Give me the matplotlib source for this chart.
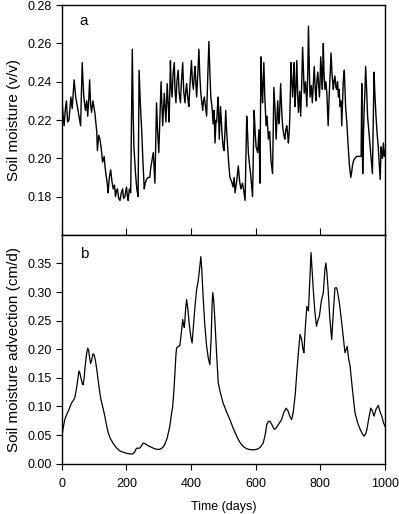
import matplotlib
matplotlib.use('Agg')
from matplotlib import pyplot as plt

plt.rcParams['font.family'] = ['Liberation Sans', 'DejaVu Sans']

# panel a: soil moisture (v/v)
days_a = [0, 4, 7, 11, 14, 18, 22, 26, 28, 32, 36, 38, 43, 47, 51, 55, 58, 61, 63, 66,
          68, 73, 77, 80, 83, 86, 89, 92, 96, 99, 102, 105, 108, 110, 114, 118, 122, 126, 131, 134,
          138, 141, 143, 147, 151, 155, 159, 163, 166, 169, 172, 176, 180, 184, 188, 191, 195, 198, 200, 203,
          205, 209, 213, 218, 221, 223, 228, 232, 236, 239, 243, 247, 251, 255, 258, 262, 267, 272, 275, 278,
          283, 286, 288, 293, 296, 300, 304, 307, 310, 312, 317, 320, 322, 326, 329, 332, 336, 338, 341, 344,
          348, 350, 353, 356, 360, 363, 367, 370, 374, 377, 381, 384, 386, 390, 393, 397, 401, 404, 407, 410,
          412, 415, 417, 421, 424, 427, 430, 433, 436, 438, 441, 445, 448, 451, 455, 458, 461, 465, 468, 471,
          474, 477, 479, 482, 484, 487, 491, 494, 496, 499, 502, 505, 507, 510, 513, 516, 520, 525, 530, 533,
          536, 541, 546, 550, 554, 559, 563, 567, 572, 575, 577, 581, 584, 587, 590, 595, 598, 601, 606, 610,
          613, 616, 619, 621, 625, 628, 632, 635, 639, 643, 647, 652, 656, 660, 663, 666, 668, 671, 673, 677,
          680, 683, 687, 690, 693, 696, 699, 701, 704, 706, 709, 712, 714, 717, 719, 721, 724, 727, 730, 732,
          736, 739, 742, 745, 748, 750, 754, 758, 761, 763, 766, 768, 772, 775, 778, 781, 784, 786, 789, 792,
          795, 797, 799, 801, 804, 806, 809, 811, 814, 817, 820, 822, 824, 827, 830, 833, 836, 840, 842, 845,
          848, 851, 853, 856, 858, 861, 864, 866, 869, 871, 874, 876, 878, 882, 886, 890, 894, 897, 899, 903,
          907, 912, 917, 922, 926, 928, 929, 931, 933, 935, 938, 940, 943, 946, 950, 954, 958, 961, 964, 966,
          969, 972, 975, 979, 982, 985, 988, 990, 992, 995, 998, 1000]
moist_a = [0.232, 0.222, 0.217, 0.226, 0.230, 0.219, 0.220, 0.228, 0.232, 0.226, 0.236, 0.241, 0.232, 0.228, 0.224, 0.220, 0.217, 0.236, 0.250, 0.238,
           0.232, 0.225, 0.230, 0.222, 0.230, 0.241, 0.228, 0.224, 0.230, 0.227, 0.224, 0.219, 0.214, 0.204, 0.212, 0.210, 0.205, 0.198, 0.201, 0.195,
           0.190, 0.186, 0.182, 0.190, 0.194, 0.188, 0.184, 0.186, 0.180, 0.183, 0.184, 0.179, 0.178, 0.182, 0.184, 0.179, 0.180, 0.183, 0.185, 0.180,
           0.178, 0.184, 0.182, 0.257, 0.220, 0.206, 0.192, 0.184, 0.180, 0.246, 0.228, 0.215, 0.198, 0.184, 0.187, 0.189, 0.190, 0.190, 0.195, 0.198,
           0.203, 0.193, 0.187, 0.229, 0.215, 0.203, 0.225, 0.240, 0.226, 0.217, 0.234, 0.225, 0.219, 0.239, 0.228, 0.219, 0.251, 0.238, 0.232, 0.244,
           0.250, 0.236, 0.229, 0.240, 0.246, 0.234, 0.229, 0.240, 0.250, 0.235, 0.229, 0.236, 0.239, 0.231, 0.227, 0.240, 0.251, 0.240, 0.236, 0.244,
           0.248, 0.238, 0.232, 0.245, 0.257, 0.243, 0.234, 0.229, 0.225, 0.230, 0.232, 0.226, 0.222, 0.240, 0.261, 0.245, 0.232, 0.226, 0.218, 0.225,
           0.208, 0.220, 0.219, 0.228, 0.232, 0.210, 0.227, 0.218, 0.212, 0.206, 0.204, 0.215, 0.225, 0.214, 0.206, 0.198, 0.190, 0.188, 0.185, 0.190,
           0.182, 0.188, 0.196, 0.188, 0.184, 0.187, 0.183, 0.178, 0.222, 0.212, 0.203, 0.196, 0.192, 0.186, 0.180, 0.225, 0.214, 0.206, 0.203, 0.215,
           0.187, 0.253, 0.236, 0.229, 0.250, 0.232, 0.217, 0.222, 0.210, 0.214, 0.199, 0.192, 0.237, 0.225, 0.210, 0.222, 0.230, 0.218, 0.220, 0.239,
           0.226, 0.217, 0.212, 0.210, 0.215, 0.217, 0.212, 0.208, 0.215, 0.225, 0.250, 0.240, 0.232, 0.242, 0.250, 0.227, 0.235, 0.251, 0.232, 0.224,
           0.235, 0.222, 0.238, 0.258, 0.243, 0.234, 0.240, 0.227, 0.245, 0.269, 0.245, 0.232, 0.238, 0.229, 0.238, 0.248, 0.236, 0.230, 0.240, 0.245,
           0.237, 0.232, 0.240, 0.253, 0.244, 0.236, 0.260, 0.245, 0.236, 0.240, 0.234, 0.226, 0.217, 0.232, 0.243, 0.255, 0.244, 0.236, 0.240, 0.243,
           0.237, 0.236, 0.240, 0.232, 0.236, 0.227, 0.230, 0.217, 0.232, 0.241, 0.246, 0.236, 0.227, 0.218, 0.206, 0.196, 0.190, 0.193, 0.196, 0.199,
           0.200, 0.201, 0.201, 0.201, 0.201, 0.239, 0.216, 0.192, 0.210, 0.224, 0.236, 0.248, 0.236, 0.222, 0.214, 0.206, 0.198, 0.192, 0.225, 0.245,
           0.232, 0.222, 0.214, 0.206, 0.197, 0.189, 0.206, 0.201, 0.200, 0.208, 0.201, 0.204]

# panel b: soil moisture advection (cm/d)
days_b = [0, 2, 4, 9, 15, 20, 25, 30, 35, 40, 45, 50, 53, 56, 59, 63, 66, 69, 72, 76,
          80, 83, 86, 89, 92, 96, 100, 104, 108, 112, 116, 121, 127, 133, 138, 143, 150, 159, 170, 180,
          190, 200, 210, 220, 225, 231, 241, 247, 252, 257, 262, 272, 283, 293, 303, 312, 319, 326, 334, 340,
          343, 347, 350, 353, 355, 360, 365, 370, 374, 377, 379, 383, 386, 390, 394, 399, 403, 407, 412, 417,
          422, 427, 430, 433, 437, 442, 448, 453, 458, 462, 465, 467, 470, 474, 479, 484, 490, 499, 510, 520,
          530, 541, 550, 561, 572, 582, 593, 603, 613, 623, 629, 634, 639, 644, 650, 655, 659, 665, 672, 680,
          687, 694, 700, 706, 711, 716, 722, 727, 732, 737, 742, 746, 749, 753, 758, 763, 767, 771, 774, 778,
          783, 788, 792, 797, 803, 809, 814, 817, 820, 824, 829, 835, 840, 845, 849, 852, 859, 866, 871, 876,
          880, 883, 887, 892, 899, 907, 915, 923, 930, 935, 940, 944, 950, 956, 961, 966, 972, 979, 985, 990,
          995, 1000]
adv_b = [0.048, 0.055, 0.062, 0.077, 0.086, 0.092, 0.099, 0.106, 0.110, 0.115, 0.130, 0.150, 0.162, 0.158, 0.150, 0.140, 0.138, 0.150, 0.170, 0.190,
         0.202, 0.198, 0.185, 0.175, 0.180, 0.192, 0.190, 0.180, 0.165, 0.147, 0.130, 0.112, 0.098, 0.083, 0.068, 0.055, 0.044, 0.035, 0.027, 0.022,
         0.020, 0.018, 0.017, 0.017, 0.020, 0.027, 0.027, 0.032, 0.036, 0.035, 0.033, 0.030, 0.027, 0.025, 0.025, 0.028, 0.034, 0.045, 0.065, 0.090,
         0.100, 0.130, 0.159, 0.190, 0.202, 0.205, 0.206, 0.230, 0.252, 0.242, 0.238, 0.270, 0.287, 0.270, 0.245, 0.222, 0.211, 0.240, 0.275, 0.304,
         0.320, 0.345, 0.362, 0.340, 0.293, 0.245, 0.205, 0.185, 0.173, 0.220, 0.280, 0.299, 0.285, 0.246, 0.190, 0.141, 0.125, 0.106, 0.090, 0.077,
         0.062, 0.048, 0.038, 0.030, 0.026, 0.0245, 0.024, 0.025, 0.028, 0.036, 0.050, 0.068, 0.074, 0.074, 0.068, 0.062, 0.060, 0.064, 0.070, 0.077,
         0.090, 0.097, 0.092, 0.082, 0.077, 0.090, 0.120, 0.159, 0.195, 0.226, 0.217, 0.200, 0.194, 0.235, 0.275, 0.267, 0.320, 0.369, 0.340, 0.304,
         0.265, 0.240, 0.250, 0.258, 0.285, 0.299, 0.340, 0.351, 0.335, 0.304, 0.255, 0.217, 0.265, 0.307, 0.308, 0.304, 0.280, 0.246, 0.220, 0.194,
         0.200, 0.205, 0.185, 0.170, 0.130, 0.089, 0.072, 0.060, 0.052, 0.048, 0.052, 0.060, 0.080, 0.097, 0.092, 0.083, 0.095, 0.102, 0.090, 0.083,
         0.072, 0.065]

xticks = [0, 200, 400, 600, 800, 1000]
yticks_a = [0.18, 0.20, 0.22, 0.24, 0.26, 0.28]
yticks_b = [0.00, 0.05, 0.10, 0.15, 0.20, 0.25, 0.30, 0.35]

fig = plt.figure(figsize=(3.99, 5.14), dpi=100)
ax1 = fig.add_axes([0.155, 0.543, 0.81, 0.447])
ax2 = fig.add_axes([0.155, 0.098, 0.81, 0.445])

ax1.plot(days_a, moist_a, color='k', lw=1.0)
ax1.set_xlim(0, 1000)
ax1.set_ylim(0.16, 0.28)
ax1.set_xticks(xticks)
ax1.set_xticklabels([])
ax1.set_yticks(yticks_a)
ax1.set_yticklabels(['%.2f' % v for v in yticks_a])
ax1.set_ylabel('Soil moisture (v/v)', size=11)
ax1.tick_params(axis='y', direction='out', labelsize=9, length=4)
ax1.tick_params(axis='x', direction='inout', length=10)
ax1.text(0.055, 0.93, 'a', transform=ax1.transAxes, size=11, va='center')

ax2.plot(days_b, adv_b, color='k', lw=0.9)
ax2.set_xlim(0, 1000)
ax2.set_ylim(0, 0.40)
ax2.set_xticks(xticks)
ax2.set_yticks(yticks_b)
ax2.set_yticklabels(['%.2f' % v for v in yticks_b])
ax2.set_xlabel('Time (days)', size=9, labelpad=8)
ax2.set_ylabel('Soil moisture advection (cm/d)', size=11)
ax2.tick_params(axis='both', direction='out', labelsize=9, length=4)
ax2.tick_params(axis='x', pad=6)
ax2.text(0.055, 0.915, 'b', transform=ax2.transAxes, size=11, va='center')

for ax in (ax1, ax2):
    for s in ax.spines.values():
        s.set_linewidth(1.0)

fig.align_ylabels([ax1, ax2])
plt.savefig('out.png', dpi=100)
